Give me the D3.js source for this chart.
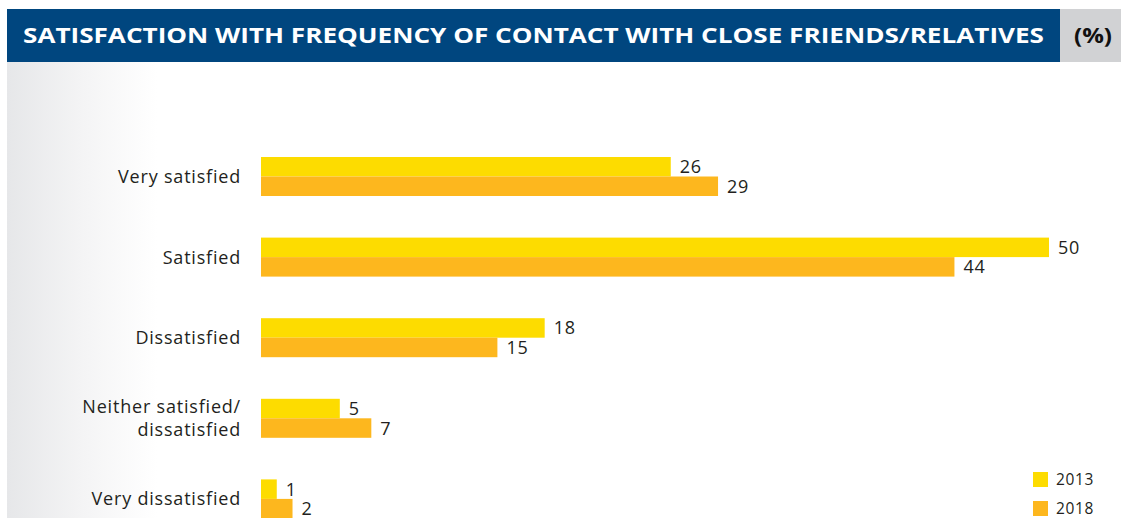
<!DOCTYPE html>
<html>
<head>
<meta charset="utf-8">
<script src="https://cdn.jsdelivr.net/npm/d3@7"></script>
<style>
  html, body { margin: 0; padding: 0; background: #fff; }
  svg { display: block; }
</style>
</head>
<body>
<svg id="chart" width="1121" height="518"></svg>
<script>
const titleText = "SATISFACTION WITH FREQUENCY OF CONTACT WITH CLOSE FRIENDS/RELATIVES";
const unitText = "(%)";
const categories = ["Very satisfied", "Satisfied", "Dissatisfied", "Neither satisfied/\ndissatisfied", "Very dissatisfied"];
const seriesNames = ["2013", "2018"];
const values2013 = [26, 50, 18, 5, 1];
const values2018 = [29, 44, 15, 7, 2];
const colors = ["#fddc00", "#fdb71e"];

const svg = d3.select("#chart");
const W = 1121, H = 518;
const font = "'Open Sans', 'DejaVu Sans', sans-serif";

// background gradient panel
const defs = svg.append("defs");
const grad = defs.append("linearGradient").attr("id", "bgGrad").attr("x1", 0).attr("x2", 1).attr("y1", 0).attr("y2", 0);
grad.append("stop").attr("offset", 0).attr("stop-color", "#e6e7e9");
grad.append("stop").attr("offset", 0.5).attr("stop-color", "#f4f4f5");
grad.append("stop").attr("offset", 1).attr("stop-color", "#ffffff");
svg.append("rect").attr("x", 7).attr("y", 0).attr("width", 150).attr("height", H).attr("fill", "url(#bgGrad)");
svg.append("rect").attr("x", 0).attr("y", 0).attr("width", W).attr("height", 9).attr("fill", "#fff");

// header
svg.append("rect").attr("x", 7).attr("y", 9).attr("width", 1053).attr("height", 53).attr("fill", "#00467f");
svg.append("rect").attr("x", 1060).attr("y", 9).attr("width", W - 1060).attr("height", 53).attr("fill", "#d1d2d4");
svg.append("text").attr("x", 23).attr("y", 42.5)
  .attr("font-family", font).attr("font-weight", 700).attr("font-size", 21)
  .attr("fill", "#fff").attr("textLength", 1021).attr("lengthAdjust", "spacingAndGlyphs")
  .text(titleText);
svg.append("text").attr("x", 1074).attr("y", 42.5)
  .attr("font-family", font).attr("font-weight", 700).attr("font-size", 21)
  .attr("fill", "#111").attr("textLength", 38).attr("lengthAdjust", "spacingAndGlyphs")
  .text(unitText);

// scales
const x = d3.scaleLinear().domain([0, 50]).range([261, 1049]);
const y = d3.scaleBand().domain(categories).range([157, 157 + 4 * 80.6 + 39]).paddingInner(41.6 / 80.6).paddingOuter(0);
const ySub = d3.scaleBand().domain(seriesNames).range([0, y.bandwidth()]).padding(0);

const rows = categories.map((c, i) => ({ cat: c, vals: [values2013[i], values2018[i]] }));

const g = svg.append("g");
const groups = g.selectAll("g.grp").data(rows).join("g").attr("class", "grp")
  .attr("transform", d => `translate(0,${y(d.cat)})`);

groups.selectAll("rect").data(d => d.vals.map((v, j) => ({ v, s: seriesNames[j], j })))
  .join("rect")
  .attr("x", x(0)).attr("y", d => ySub(d.s))
  .attr("width", d => x(d.v) - x(0)).attr("height", ySub.bandwidth())
  .attr("fill", d => colors[d.j]);

groups.selectAll("text.val").data(d => d.vals.map((v, j) => ({ v, s: seriesNames[j], j })))
  .join("text").attr("class", "val")
  .attr("x", d => x(d.v) + 9).attr("y", d => ySub(d.s) + ySub.bandwidth() / 2)
  .attr("dy", "0.36em")
  .attr("font-family", font).attr("font-size", 18).attr("letter-spacing", 0.8).attr("fill", "#231f20")
  .text(d => d.v);

// category labels
groups.each(function(d) {
  const lines = d.cat.split("\n");
  const t = d3.select(this).append("text")
    .attr("x", 241).attr("text-anchor", "end")
    .attr("font-family", font).attr("font-size", 18).attr("letter-spacing", 0.8).attr("fill", "#231f20");
  const lh = 23;
  const c = y.bandwidth() / 2;
  lines.forEach((ln, k) => {
    t.append("tspan").attr("x", 241)
      .attr("y", c + (k - (lines.length - 1) / 2) * lh)
      .attr("dy", "0.36em").text(ln);
  });
});

// legend
const leg = svg.append("g").selectAll("g").data(seriesNames).join("g")
  .attr("transform", (d, i) => `translate(1033,${472 + i * 29})`);
leg.append("rect").attr("width", 15).attr("height", 15).attr("fill", (d, i) => colors[i]);
leg.append("text").attr("x", 23).attr("y", 7.5).attr("dy", "0.36em")
  .attr("font-family", font).attr("font-size", 15.5).attr("letter-spacing", 0.6).attr("fill", "#231f20").text(d => d);
</script>
</body>
</html>
